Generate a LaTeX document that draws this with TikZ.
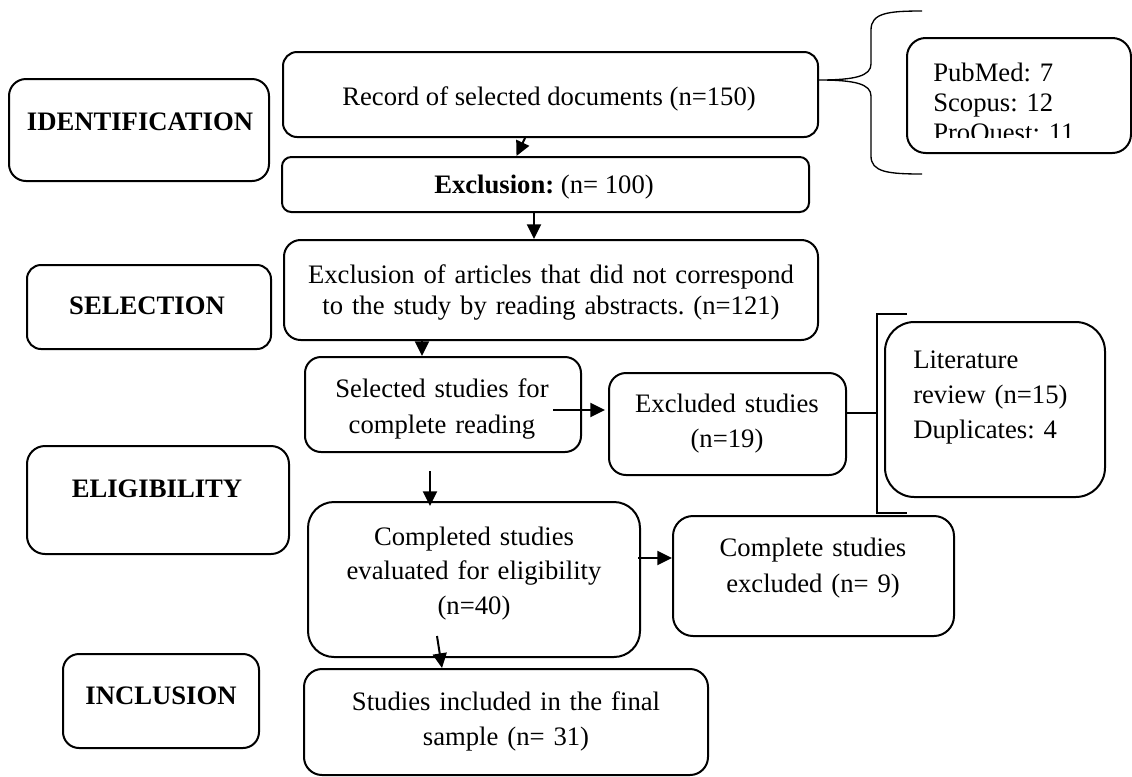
\documentclass[tikz,border=0pt]{standalone}
\usepackage{fontspec}
\setmainfont{Liberation Serif}
\usetikzlibrary{arrows.meta,fit,calc}
\begin{document}
\frenchspacing
\begin{tikzpicture}[x=0.75pt,y=-0.75pt,
  box/.style={draw, line width=1.5pt, rounded corners=#1, inner sep=0pt},
  box/.default=12pt,
  lbl/.style={inner sep=0pt, font=\fontsize{20}{24}\selectfont},
  blbl/.style={inner sep=0pt, font=\bfseries\fontsize{20}{24}\selectfont},
  ml/.style={inner sep=0pt, text width=#1, align=center},
  arr/.style={line width=1.5pt, -{Triangle[length=11pt,width=10.5pt]}},
  thinline/.style={line width=1pt}]
\useasboundingbox (0,0) rectangle (1132,776);

% left column
\node[box=12.75pt, fit={(9,79) (269,181)}] (ident) {};
\node[blbl, anchor=base] (identt) at (140,130) {IDENTIFICATION};
\node[box=10.5pt, fit={(27,265) (271,349)}] (selc) {};
\node[blbl, anchor=base] (selct) at (147,314) {SELECTION};
\node[box=13.5pt, fit={(27,446) (289,554)}] (elig) {};
\node[blbl, anchor=base] (eligt) at (157,497) {ELIGIBILITY};
\node[box=12pt, fit={(63,654) (259,748)}] (incl) {};
\node[blbl, anchor=base] (inclt) at (161,704) {INCLUSION};

% main column
\node[box=10.5pt, fit={(283,52) (818,137)}] (rec) {};
\node[lbl, anchor=base] (rect) at (549,105) {Record of selected documents (n=150)};
\node[box=7pt, fit={(282,157) (809,212)}] (excl) {};
\node[lbl, anchor=base] (exclt) at (544,193) {\textbf{Exclusion:} (n= 100)};
\node[box=12.5pt, fit={(284,240) (818,340)}] (abs) {};
\node[lbl, ml=400pt, font=\fontsize{20}{23.25}\selectfont, anchor=base] (abst) at (551,283)
  {Exclusion of articles that did not correspond\\to the study by reading abstracts. (n=121)};
\node[box=12pt, fit={(305,357) (581,452)}] (sel) {};
\node[lbl, ml=200pt, font=\fontsize{20}{27}\selectfont, anchor=base] (selt) at (442,397)
  {Selected studies for\\complete reading};
\node[box=12.75pt, fit={(609,373) (846,475)}] (excstud) {};
\node[lbl, ml=170pt, font=\fontsize{20}{26.25}\selectfont, anchor=base] (excstudt) at (727,412)
  {Excluded studies\\(n=19)};
\node[box=22pt, fit={(885,322) (1105,497)}] (lit) {};
\node[lbl, text width=150pt, align=left, font=\fontsize{20}{26.25}\selectfont, anchor=base west] (litt) at (913,368)
  {Literature\\review (n=15)\\Duplicates: 4};
\node[box=19.5pt, fit={(308,502) (640,657)}] (comp) {};
\node[lbl, ml=240pt, font=\fontsize{20}{26}\selectfont, anchor=base] (compt) at (474,545)
  {Completed studies\\evaluated for eligibility\\(n=40)};
\node[box=15pt, fit={(673,516) (954,636)}] (compex) {};
\node[lbl, ml=200pt, font=\fontsize{20}{27}\selectfont, anchor=base] (compext) at (813,556)
  {Complete studies\\excluded (n= 9)};
\node[box=13.5pt, fit={(304,669) (708,775)}] (final) {};
\node[lbl, ml=290pt, font=\fontsize{20}{26.25}\selectfont, anchor=base] (finalt) at (506,710)
  {Studies included in the final\\sample (n= 31)};

% sources box (clipped text)
\node[box=14pt, fit={(907,38) (1131,153)}] (pub) {};
\begin{scope}
  \clip (907,38) rectangle (1131,137);
  \node[lbl, text width=150pt, align=left, font=\fontsize{20}{22.5}\selectfont, anchor=base west] (pubt) at (933,81)
    {PubMed: 7\\Scopus: 12\\ProQuest: 11};
\end{scope}

% brace
\coordinate (bt) at ($(rec.east)+(0,-14.5)$);
\draw[thinline] (922,11) .. controls (888,11) and (871,13) .. (871,30) -- (871,64)
  .. controls (871,76) and (855,80) .. (bt)
  .. controls (855,80) and (871,84) .. (871,96) -- (871,156)
  .. controls (871,172) and (888,174) .. (922,174);

% bracket
\coordinate (bk) at (877,413);
\draw[line width=1.2pt] ($(excstud.east)+(0,-11)$) -- (bk);
\draw[thinline] (907,314) -- (877,314) -- (877,513) -- (907,513);

% arrows
\draw[arr] ($(rec.south)+(-25.5,0)$) -- ($(excl.north)+(-29,0)$);
\draw[arr] ($(excl.south)+(-11.5,0)$) -- ($(abs.north)+(-17,0)$);
\draw[arr] ($(abs.south)+(-129,0)$) -- ($(sel.north)+(-21,0)$);
\draw[arr] ($(sel.center)+(110,5.5)$) -- ($(excstud.west)+(-3,-14)$);
\draw[arr] ($(sel.south)+(-13,18)$) -- ($(comp.north)+(-44,5)$);
\draw[arr] ($(comp.east)+(-3,-21.5)$) -- ($(compex.west)+(0,-18)$);
\draw[arr] ($(comp.south)+(-37,-22)$) -- ($(final.north)+(-64,0)$);
\end{tikzpicture}
\end{document}
